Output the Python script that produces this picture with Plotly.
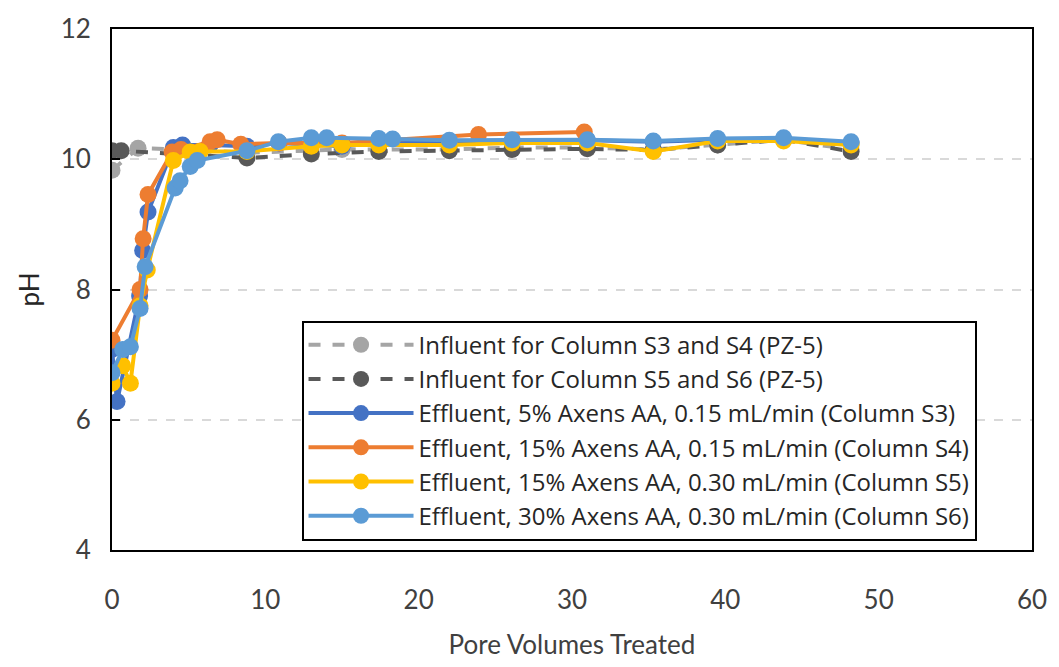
import plotly.graph_objects as go

# ---- data ----
inf34_x = [0, 1.7, 4.5, 8.8, 15.0, 17.4, 22.0, 26.1, 31.0, 35.3, 39.5, 43.8, 48.2]
inf34_y = [9.83, 10.17, 10.15, 10.1, 10.15, 10.15, 10.15, 10.18, 10.18, 10.15, 10.22, 10.3, 10.15]

inf56_x = [0, 0.6, 8.8, 13.0, 17.4, 22.0, 26.1, 31.0, 35.3, 39.5, 43.8, 48.2]
inf56_y = [10.13, 10.13, 10.02, 10.08, 10.12, 10.13, 10.15, 10.16, 10.14, 10.22, 10.3, 10.12]

s3_x = [0, 0.33, 1.8, 2.0, 2.35, 4.0, 4.6, 6.4, 8.8, 10.9, 15.0, 17.4, 22.0, 26.1, 31.0, 35.3, 39.5, 43.8, 48.2]
s3_y = [7.08, 6.28, 7.9, 8.6, 9.19, 10.18, 10.22, 10.22, 10.2, 10.25, 10.2, 10.25, 10.27, 10.28, 10.29, 10.27, 10.3, 10.31, 10.25]

s4_x = [0, 1.83, 2.03, 2.35, 3.92, 4.5, 6.4, 6.86, 8.4, 10.9, 15.0, 23.9, 30.8]
s4_y = [7.22, 8.0, 8.78, 9.46, 10.11, 10.15, 10.27, 10.3, 10.23, 10.25, 10.25, 10.38, 10.42]

s5_x = [0, 0.7, 1.2, 1.83, 2.3, 4.0, 5.1, 5.75, 8.8, 13.0, 15.0, 17.4, 22.0, 26.1, 31.0, 35.3, 39.5, 43.8, 48.2]
s5_y = [6.56, 6.83, 6.56, 7.75, 8.3, 9.98, 10.11, 10.12, 10.12, 10.2, 10.22, 10.22, 10.22, 10.25, 10.25, 10.12, 10.28, 10.28, 10.22]

s6_x = [0, 0.7, 1.2, 1.83, 2.16, 4.12, 4.44, 5.1, 5.56, 8.8, 10.85, 13.0, 14.0, 17.4, 18.3, 22.0, 26.1, 31.0, 35.3, 39.5, 43.8, 48.2]
s6_y = [6.72, 7.08, 7.12, 7.71, 8.35, 9.56, 9.67, 9.89, 9.98, 10.13, 10.27, 10.33, 10.33, 10.32, 10.31, 10.29, 10.3, 10.3, 10.28, 10.32, 10.33, 10.27]

names = [
    "Influent for Column S3 and S4 (PZ-5)",
    "Influent for Column S5 and S6 (PZ-5)",
    "Effluent, 5% Axens AA, 0.15 mL/min (Column S3)",
    "Effluent, 15% Axens AA, 0.15 mL/min (Column S4)",
    "Effluent, 15% Axens AA, 0.30 mL/min (Column S5)",
    "Effluent, 30% Axens AA, 0.30 mL/min (Column S6)",
]
xs = [inf34_x, inf56_x, s3_x, s4_x, s5_x, s6_x]
ys = [inf34_y, inf56_y, s3_y, s4_y, s5_y, s6_y]
colors = ["#A5A5A5", "#595959", "#4472C4", "#ED7D31", "#FFC000", "#5B9BD5"]
dashes = ["dash", "dash", "solid", "solid", "solid", "solid"]

FONT = "Lato, Open Sans, sans-serif"
LEG_FONT = "Open Sans, Lato, sans-serif"

fig = go.Figure()
for x, y, n, c, d in zip(xs, ys, names, colors, dashes):
    fig.add_trace(go.Scatter(
        x=x, y=y, name=n, mode="lines+markers",
        line=dict(color=c, width=4, dash=d),
        marker=dict(color=c, size=17),
    ))

fig.update_layout(
    width=1059, height=667,
    margin=dict(l=112, r=26, t=22, b=108),
    paper_bgcolor="white", plot_bgcolor="white",
    font=dict(family=FONT, size=26, color="#404040"),
    showlegend=True,
    legend=dict(
        x=0.206, y=0.018, xanchor="left", yanchor="bottom",
        bgcolor="white", bordercolor="black", borderwidth=2,
        font=dict(family=LEG_FONT, size=24, color="#262626"),
        tracegroupgap=0, itemwidth=105,
    ),
)
fig.update_xaxes(
    range=[0, 60], dtick=10, tick0=0,
    showgrid=False, zeroline=False,
    showline=True, mirror=True, linecolor="black", linewidth=2,
    ticks="", ticklabelstandoff=26,
    title=dict(text="Pore Volumes Treated", standoff=22, font=dict(size=26, color="#404040")),
)
fig.update_yaxes(
    range=[4, 12], dtick=2, tick0=4,
    showgrid=True, gridcolor="#D9D9D9", gridwidth=2, griddash="dash",
    zeroline=False,
    showline=True, mirror=True, linecolor="black", linewidth=2,
    ticks="inside", ticklen=8, tickwidth=2, tickcolor="black",
    ticklabelstandoff=14,
    title=dict(text="pH", standoff=14, font=dict(size=26, color="#262626")),
)

fig.write_html("out.html")
